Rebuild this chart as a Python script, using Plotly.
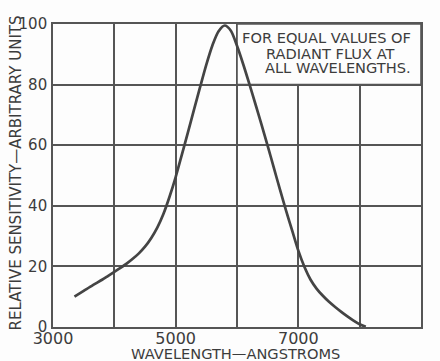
import plotly.graph_objects as go

# Data
wavelength = [3350, 3500, 3650, 3800, 3900, 4000, 4100, 4200, 4300, 4400, 4500, 4600,
              4700, 4800, 4900, 5000, 5100, 5200, 5300, 5400, 5500, 5600, 5700, 5800,
              5900, 6000, 6100, 6200, 6300, 6400, 6500, 6600, 6700, 6800, 6900, 7000,
              7100, 7200, 7300, 7400, 7500, 7600, 7700, 7800, 7900, 8000, 8100]
sensitivity = [10, 11.9, 13.8, 15.6, 16.9, 18.2, 19.5, 20.9, 22.5, 24.3, 26.5, 29.3,
               32.8, 37.3, 43.0, 49.5, 56.8, 64.2, 71.8, 79.3, 86.6, 93.0, 97.6, 99.5,
               97.8, 92.8, 86.8, 80.3, 73.6, 66.8, 59.8, 52.6, 45.4, 38.4, 31.8, 25.2,
               19.8, 15.6, 12.6, 10.3, 8.3, 6.6, 5.0, 3.5, 2.1, 0.9, 0.1]

x_tickvals = [3000, 4000, 5000, 6000, 7000, 8000, 9000]
x_ticktext = ["3000", "", "5000", "", "7000", "", "9000"]
y_tickvals = [0, 20, 40, 60, 80, 100]
y_ticktext = ["0", "20", "40", "60", "80", "100"]

note_lines = ["FOR EQUAL VALUES OF", "RADIANT FLUX AT", "ALL WAVELENGTHS."]
note_x = [7462, 7511, 7640]
note_y = [95.4, 90.4, 85.5]
x_title = "WAVELENGTH\u2014ANGSTROMS"
y_title = "RELATIVE SENSITIVITY\u2014ARBITRARY UNITS"

ink = "#444444"
grid = "#555555"
text_col = "#3c3c3c"
font_family = "DejaVu Sans, Verdana, sans-serif"

fig = go.Figure()
fig.add_trace(go.Scatter(
    x=wavelength, y=sensitivity, mode="lines",
    line=dict(color=ink, width=2.7, shape="spline", smoothing=0.8),
    hoverinfo="skip", showlegend=False,
))

fig.add_shape(type="rect", xref="x", yref="y", x0=6000, x1=9000, y0=80, y1=100,
              fillcolor="#fdfdfd", line=dict(color=grid, width=1.6), layer="between")

for txt, nx, ny in zip(note_lines, note_x, note_y):
    fig.add_annotation(x=nx, y=ny, xref="x", yref="y", text=txt, showarrow=False,
                       xanchor="center", yanchor="middle",
                       font=dict(family=font_family, size=14.6, color=text_col))

# axis titles placed as paper annotations for exact positioning
fig.add_annotation(x=0.497, y=-0.087, xref="paper", yref="paper",
                   text=x_title, showarrow=False, xanchor="center", yanchor="middle",
                   font=dict(family=font_family, size=14.6, color=text_col))
fig.add_annotation(x=-0.098, y=0.51, xref="paper", yref="paper",
                   text=y_title, showarrow=False, xanchor="center", yanchor="middle",
                   textangle=-90,
                   font=dict(family=font_family, size=15, color=text_col))

fig.update_layout(
    width=440, height=361,
    margin=dict(l=53, r=19, t=24, b=34),
    paper_bgcolor="#fdfdfd", plot_bgcolor="#fdfdfd",
    font=dict(family=font_family, color=text_col),
)
fig.update_xaxes(
    range=[3000, 9000], tickvals=x_tickvals, ticktext=x_ticktext,
    showgrid=True, gridcolor=grid, gridwidth=1.6,
    showline=True, linecolor=grid, linewidth=1.6, mirror=True,
    ticks="", tickfont=dict(size=16), ticklabelstandoff=-4,
    automargin=False, zeroline=False,
)
fig.update_yaxes(
    range=[0, 100], tickvals=y_tickvals, ticktext=y_ticktext,
    showgrid=True, gridcolor=grid, gridwidth=1.6,
    showline=True, linecolor=grid, linewidth=1.6, mirror=True,
    ticks="", tickfont=dict(size=15), ticklabelstandoff=1,
    automargin=False, zeroline=False,
)

fig.write_html(
    "out.html",
    config={"displayModeBar": False},
    post_script="document.body.style.margin='0px';document.body.style.background='#fdfdfd';",
)
